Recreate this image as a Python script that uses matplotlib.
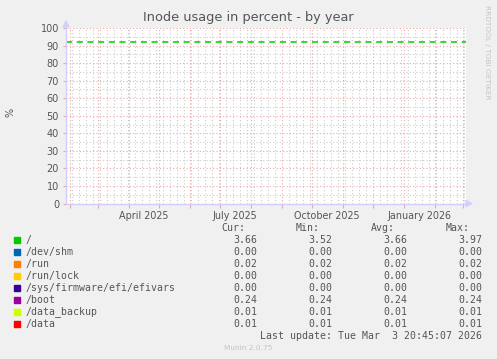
import datetime as dt
import matplotlib
matplotlib.use('Agg')
import matplotlib.pyplot as plt
import matplotlib.dates as mdates
from matplotlib.ticker import MultipleLocator

W, H = 497, 359

# legend data
names = ['/', '/dev/shm', '/run', '/run/lock', '/sys/firmware/efi/efivars',
         '/boot', '/data_backup', '/data']
colors = ['#00cc00', '#0066b3', '#ff8000', '#ffcc00', '#330099',
          '#990099', '#ccff00', '#ff0000']
cur = [3.66, 0.00, 0.02, 0.00, 0.00, 0.24, 0.01, 0.01]
vmin = [3.52, 0.00, 0.02, 0.00, 0.00, 0.24, 0.01, 0.01]
vavg = [3.66, 0.00, 0.02, 0.00, 0.00, 0.24, 0.01, 0.01]
vmax = [3.97, 0.00, 0.02, 0.00, 0.00, 0.24, 0.01, 0.01]
warning = 92
start = dt.datetime(2025, 1, 28)
end = dt.datetime(2026, 3, 4)
labels = [(dt.datetime(2025, 4, 16), 'April 2025'),
          (dt.datetime(2025, 7, 16), 'July 2025'),
          (dt.datetime(2025, 10, 16), 'October 2025'),
          (dt.datetime(2026, 1, 16), 'January 2026')]

def fx(x):
    return x / W

def fy(y):
    return 1 - y / H

fig = plt.figure(figsize=(W / 100, H / 100), dpi=100, facecolor='#f0f0f0')
ax = fig.add_axes([fx(66), fy(203.5), 400 / W, 175.5 / H])
ax.set_facecolor('white')
ax.set_xlim(start, end)
ax.set_ylim(0, 100)

# grid
ax.xaxis.set_major_locator(mdates.MonthLocator())
ax.xaxis.set_minor_locator(mdates.WeekdayLocator(byweekday=mdates.MO))
ax.yaxis.set_major_locator(MultipleLocator(10))
ax.yaxis.set_minor_locator(MultipleLocator(5))
ax.grid(which='minor', color='#cccccc', linestyle=(0, (1, 2)), linewidth=0.8)
ax.grid(which='major', color='#eba8a8', linestyle=(0, (1, 2)), linewidth=0.8)
ax.set_axisbelow(True)
ax.set_xticklabels([])
ax.tick_params(axis='x', which='major', length=3, color='#eba8a8', width=0.8)
ax.tick_params(axis='x', which='minor', length=0)
ax.tick_params(axis='y', which='major', length=2, color='#eba8a8', width=0.8,
               labelsize=7, labelcolor='#555555', pad=3)
ax.tick_params(axis='y', which='minor', length=0)
for s in ['top', 'right']:
    ax.spines[s].set_visible(False)
for s in ['left', 'bottom']:
    ax.spines[s].set_color('#d0d0ff')
    ax.spines[s].set_linewidth(1)

ax.axhline(warning, color='#00cc00', linestyle=(0, (4, 3)), linewidth=1.1)

for d, t in labels:
    ax.text(d, -4, t, ha='center', va='top', fontsize=6.9, color='#555555')

# axis arrows
fig.patches.append(plt.Polygon([[fx(63), fy(27)], [fx(69), fy(27)], [fx(66), fy(21)]],
                               closed=True, transform=fig.transFigure,
                               color='#d0d0ff'))
fig.patches.append(plt.Polygon([[fx(466), fy(200.5)], [fx(466), fy(206.5)], [fx(472), fy(203.5)]],
                               closed=True, transform=fig.transFigure,
                               color='#d0d0ff'))

fig.text(fx(248), fy(18), 'Inode usage in percent - by year', ha='center',
         va='center', fontsize=9.3, color='#555555')
fig.text(fx(10), fy(112), '%', ha='center', va='center', rotation=90,
         fontsize=7, color='#555555')
fig.text(fx(487), fy(52), 'RRDTOOL / TOBI OETIKER', ha='center', va='center',
         rotation=270, fontsize=5.3, color='#c4c4c4')

mono = 'DejaVu Sans Mono'
fs = 7.1
tc = '#555555'
cols = [257, 332, 407, 482]
heads = ['Cur:', 'Min:', 'Avg:', 'Max:']
for c, h in zip(cols, heads):
    fig.text(fx(c - 12), fy(228), h, ha='right', va='center', family=mono,
             fontsize=fs, color=tc)
for i, n in enumerate(names):
    y = 240 + 12 * i
    fig.patches.append(plt.Rectangle((fx(14), fy(y + 3)), 6 / W, 6 / H,
                                     transform=fig.transFigure,
                                     color=colors[i]))
    fig.text(fx(26), fy(y), n, ha='left', va='center', family=mono,
             fontsize=fs, color=tc)
    for c, v in zip(cols, [cur[i], vmin[i], vavg[i], vmax[i]]):
        fig.text(fx(c), fy(y), '%.2f' % v, ha='right', va='center',
                 family=mono, fontsize=fs, color=tc)
fig.text(fx(482), fy(336), 'Last update: Tue Mar  3 20:45:07 2026', ha='right',
         va='center', family=mono, fontsize=fs, color=tc)
fig.text(fx(248), fy(348), 'Munin 2.0.75', ha='center', va='center',
         fontsize=5.3, color='#c4c4c4')

fig.savefig('out.png', dpi=100, facecolor=fig.get_facecolor())
